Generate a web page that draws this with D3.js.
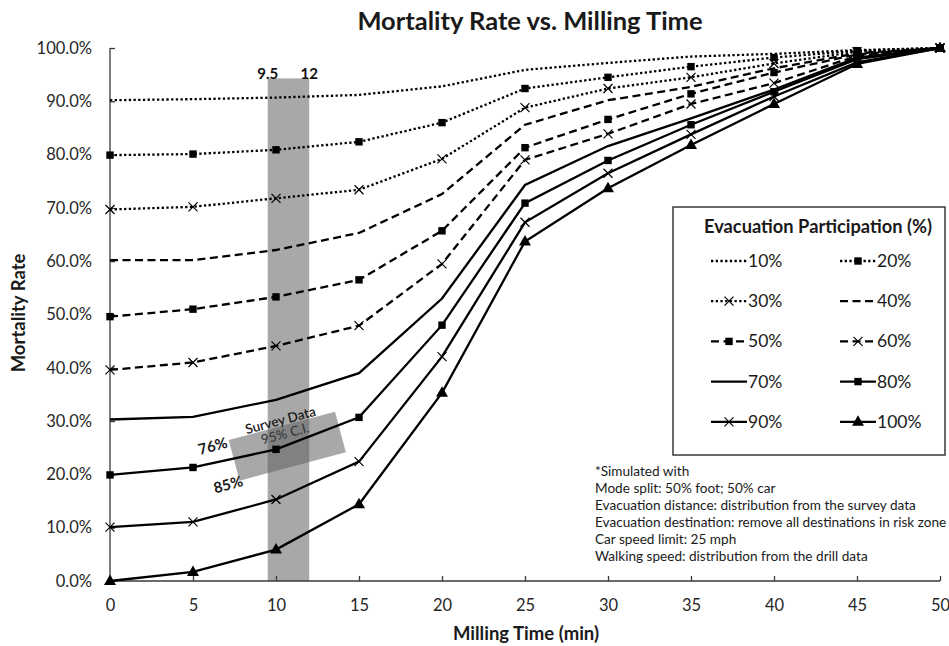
<!DOCTYPE html>
<html><head><meta charset="utf-8">
<script src="https://cdn.jsdelivr.net/npm/d3@7"></script>
<style>
html,body{margin:0;padding:0;background:#fff;}
svg{display:block;font-family:Lato,"Open Sans",sans-serif;}
</style></head>
<body>
<svg id="chart" width="949" height="646"></svg>
<script>
// ---------- DATA ----------
const times = [0, 5, 10, 15, 20, 25, 30, 35, 40, 45, 50];
const seriesNames = ["10%", "20%", "30%", "40%", "50%", "60%", "70%", "80%", "90%", "100%"];
const p10  = [90.2, 90.4, 90.7, 91.2, 92.8, 95.9, 97.2, 98.4, 98.9, 99.6, 100];
const p20  = [79.9, 80.1, 80.9, 82.4, 86.0, 92.4, 94.5, 96.5, 98.2, 99.5, 100];
const p30  = [69.7, 70.2, 71.8, 73.4, 79.2, 88.8, 92.4, 94.5, 97.1, 99.3, 100];
const p40  = [60.2, 60.2, 62.1, 65.3, 72.6, 85.6, 90.2, 92.7, 96.2, 99.0, 100];
const p50  = [49.6, 51.0, 53.3, 56.5, 65.7, 81.3, 86.6, 91.4, 95.4, 98.8, 100];
const p60  = [39.6, 41.0, 44.1, 47.9, 59.5, 79.0, 83.9, 89.5, 93.4, 98.5, 100];
const p70  = [30.3, 30.8, 34.0, 39.0, 53.0, 74.3, 81.6, 86.8, 92.2, 98.2, 100];
const p80  = [19.9, 21.3, 24.7, 30.7, 48.0, 70.9, 78.9, 85.6, 91.8, 97.9, 100];
const p90  = [10.1, 11.1, 15.3, 22.4, 42.1, 67.3, 76.5, 83.8, 90.9, 97.3, 100];
const p100 = [0.0, 1.7, 5.9, 14.4, 35.3, 63.7, 73.7, 81.8, 89.5, 97.0, 100];
const seriesValues = [p10, p20, p30, p40, p50, p60, p70, p80, p90, p100];

const xTicks = [0, 5, 10, 15, 20, 25, 30, 35, 40, 45, 50];
const yTicks = [0, 10, 20, 30, 40, 50, 60, 70, 80, 90, 100];

// survey band (milling time range) and CI box
const bandRange = [9.5, 12];
const bandTop = 94.3;
const bandLabels = ["9.5", "12"];
const ciCenter = [10.68, 25.3];
const ciLabels = ["Survey Data", "95% C.I.", "76%", "85%"];

const notes = [
  "*Simulated with",
  "Mode split: 50% foot; 50% car",
  "Evacuation distance: distribution from the survey data",
  "Evacuation destination: remove all destinations in risk zone",
  "Car speed limit: 25 mph",
  "Walking speed: distribution from the drill data"
];

// ---------- STYLES ----------
const lineTypes = ["dot","dot","dot","dash","dash","dash","solid","solid","solid","solid"];
const markerTypes = [null,"square","x",null,"square","x",null,"square","x","triangle"];
const dashArr = {dot: "2.3,2.4", dash: "8,4.5", solid: null};

// ---------- SCALES ----------
const svg = d3.select("#chart");
const x = d3.scaleLinear().domain([0, 50]).range([110, 940]);
const y = d3.scaleLinear().domain([0, 100]).range([581, 48]);
const axisColor = "#3a3a3a";

// band
svg.append("rect")
  .attr("x", x(bandRange[0])).attr("y", y(bandTop))
  .attr("width", x(bandRange[1]) - x(bandRange[0]))
  .attr("height", y(0) - y(bandTop))
  .attr("fill", "#a8a8a8");
svg.selectAll(".bandlab").data(bandRange).enter().append("text")
  .attr("x", d => x(d)).attr("y", y(bandTop) + 1)
  .attr("text-anchor", "middle")
  .attr("font-size", 15).attr("font-weight", "bold").attr("fill", "#111")
  .text((d, i) => bandLabels[i]);

// CI rotated box
const ci = svg.append("g")
  .attr("transform", `translate(${x(ciCenter[0])},${y(ciCenter[1])}) rotate(-15)`);
ci.append("rect").attr("x", -55).attr("y", -21).attr("width", 110).attr("height", 42)
  .attr("fill", "rgb(97,97,97)").attr("fill-opacity", 0.55);

// axes
const yAxis = d3.axisLeft(y).tickValues(yTicks).tickSize(-5).tickPadding(18)
  .tickFormat(d => d.toFixed(1) + "%");
const gy = svg.append("g").attr("transform", `translate(${x(0)},0)`).call(yAxis);
gy.select(".domain").attr("stroke", axisColor).attr("stroke-width", 1.3).attr("d", `M0,${y(0)}V${y(100)}`);
gy.selectAll(".tick line").attr("stroke", axisColor).attr("stroke-width", 1.3);
gy.selectAll(".tick text").attr("font-size", 16.5).attr("fill", "#262626")
  .attr("font-family", "Lato, sans-serif");

const xAxis = d3.axisBottom(x).tickValues(xTicks).tickSize(-5).tickPadding(18);
const gx = svg.append("g").attr("transform", `translate(0,${y(0)})`).call(xAxis);
gx.select(".domain").attr("stroke", axisColor).attr("stroke-width", 1.3).attr("d", `M${x(0)},0H${x(50)}`);
gx.selectAll(".tick line").attr("stroke", axisColor).attr("stroke-width", 1.3);
gx.selectAll(".tick text").attr("font-size", 16.5).attr("fill", "#262626")
  .attr("font-family", "Lato, sans-serif");

// lines
const line = d3.line().x((d, i) => x(times[i])).y(d => y(d));
seriesValues.forEach((vals, s) => {
  svg.append("path").datum(vals)
    .attr("d", line).attr("fill", "none").attr("stroke", "#000")
    .attr("stroke-width", 2.3)
    .attr("stroke-dasharray", dashArr[lineTypes[s]]);
});

function drawMarker(g, type, cx, cy) {
  if (type === "square") {
    g.append("rect").attr("x", cx - 3.7).attr("y", cy - 3.7).attr("width", 7.4).attr("height", 7.4).attr("fill", "#000");
  } else if (type === "x") {
    g.append("path").attr("d", `M${cx-4.5},${cy-4.5}L${cx+4.5},${cy+4.5}M${cx-4.5},${cy+4.5}L${cx+4.5},${cy-4.5}`)
      .attr("stroke", "#000").attr("stroke-width", 1.2).attr("fill", "none");
  } else if (type === "triangle") {
    g.append("path").attr("d", `M${cx},${cy-6.5}L${cx+6},${cy+4}L${cx-6},${cy+4}Z`).attr("fill", "#000");
  }
}
const mg = svg.append("g");
seriesValues.forEach((vals, s) => {
  if (!markerTypes[s]) return;
  vals.forEach((v, i) => drawMarker(mg, markerTypes[s], x(times[i]), y(v)));
});

// CI text (on top)
ci.append("text").attr("x", 0).attr("y", -22).attr("text-anchor", "middle")
  .attr("font-size", 13.5).attr("font-weight", 600).attr("fill", "#1a1a1a").text(ciLabels[0]);
ci.append("text").attr("x", 1).attr("y", -8).attr("text-anchor", "middle")
  .attr("font-size", 13.5).attr("fill", "#333").text(ciLabels[1]);
ci.append("text").attr("x", -72).attr("y", -14).attr("text-anchor", "middle")
  .attr("font-size", 15).attr("font-weight", "bold").attr("fill", "#1a1a1a").text(ciLabels[2]);
ci.append("text").attr("x", -67).attr("y", 27).attr("text-anchor", "middle")
  .attr("font-size", 15).attr("font-weight", "bold").attr("fill", "#1a1a1a").text(ciLabels[3]);

// title and axis titles
svg.append("text").attr("x", 530).attr("y", 30).attr("text-anchor", "middle")
  .attr("font-size", 25.5).attr("font-weight", "bold").attr("fill", "#1a1a1a")
  .text("Mortality Rate vs. Milling Time");
svg.append("text").attr("x", 526).attr("y", 640).attr("text-anchor", "middle")
  .attr("font-size", 18.5).attr("font-weight", "bold").attr("fill", "#1a1a1a")
  .text("Milling Time (min)");
svg.append("text").attr("transform", "translate(25,313) rotate(-90)").attr("text-anchor", "middle")
  .attr("font-size", 18.5).attr("font-weight", "bold").attr("fill", "#1a1a1a")
  .text("Mortality Rate");

// legend
const lg = svg.append("g");
lg.append("rect").attr("x", 673).attr("y", 207).attr("width", 272).attr("height", 248)
  .attr("fill", "#fff").attr("stroke", "#3a3a3a").attr("stroke-width", 1.5);
lg.append("text").attr("x", 818).attr("y", 233).attr("text-anchor", "middle")
  .attr("font-size", 18.3).attr("font-weight", "bold").attr("fill", "#1a1a1a")
  .text("Evacuation Participation (%)");
seriesNames.forEach((name, s) => {
  const col = s % 2, row = Math.floor(s / 2);
  const x0 = col === 0 ? 711 : 840;
  const yy = 261 + row * 40.2;
  lg.append("line").attr("x1", x0).attr("x2", x0 + 36).attr("y1", yy).attr("y2", yy)
    .attr("stroke", "#000").attr("stroke-width", 2.3)
    .attr("stroke-dasharray", dashArr[lineTypes[s]]);
  if (markerTypes[s]) drawMarker(lg, markerTypes[s], x0 + 18, yy);
  lg.append("text").attr("x", x0 + 37).attr("y", yy + 6)
    .attr("font-size", 17.5).attr("fill", "#1a1a1a").text(name);
});

// notes
svg.append("g").selectAll("text").data(notes).enter().append("text")
  .attr("x", 595).attr("y", (d, i) => 476 + i * 17)
  .attr("font-size", 13.6).attr("fill", "#1a1a1a").text(d => d);
</script>
</body></html>
